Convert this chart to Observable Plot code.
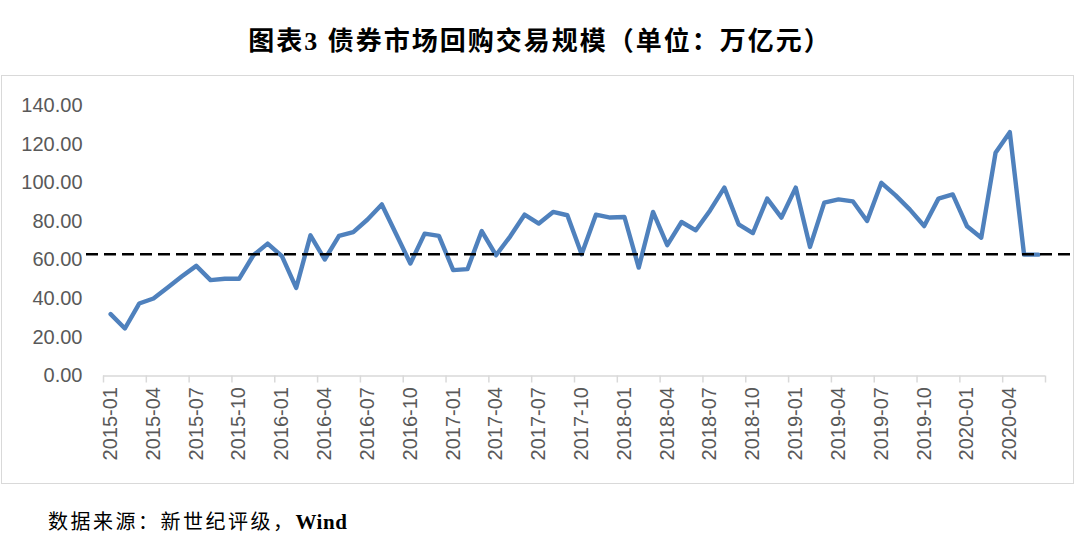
<!DOCTYPE html>
<html>
<head>
<meta charset="utf-8">
<script src="https://cdn.jsdelivr.net/npm/d3@7"></script>
<script src="https://cdn.jsdelivr.net/npm/@observablehq/plot@0.6"></script>
<style>
  body { margin: 0; background: #fff; }
  #wrap { position: relative; width: 1080px; height: 545px; overflow: hidden; background: #fff; }
  #title { position: absolute; top: 24px; left: 0; width: 1080px; text-align: center;
    font-family: "Liberation Serif", "Noto Sans CJK SC", serif; font-weight: bold; font-size: 26px;
    letter-spacing: 2px; color: #000; line-height: 36px; }
  #box { position: absolute; left: 1px; top: 75px; width: 1071px; height: 407px; border: 1.5px solid #d9d9d9; }
  #chart { position: absolute; left: 0; top: 0; }
  #cap { position: absolute; left: 48px; top: 508px; font-family: "Liberation Serif", "Noto Sans CJK SC", serif;
    font-size: 20px; letter-spacing: 2.5px; color: #000; line-height: 28px; }
  #cap b { letter-spacing: 0.5px; font-size: 21px; }
</style>
</head>
<body>
<div id="wrap">
  <div id="title">图表3 债券市场回购交易规模（单位：万亿元）</div>
  <div id="box"></div>
  <div id="chart"></div>
  <div id="cap">数据来源：新世纪评级，<b>Wind</b></div>
</div>
<script>
const months = [
  "2015-01","2015-02","2015-03","2015-04","2015-05","2015-06","2015-07","2015-08","2015-09","2015-10","2015-11","2015-12",
  "2016-01","2016-02","2016-03","2016-04","2016-05","2016-06","2016-07","2016-08","2016-09","2016-10","2016-11","2016-12",
  "2017-01","2017-02","2017-03","2017-04","2017-05","2017-06","2017-07","2017-08","2017-09","2017-10","2017-11","2017-12",
  "2018-01","2018-02","2018-03","2018-04","2018-05","2018-06","2018-07","2018-08","2018-09","2018-10","2018-11","2018-12",
  "2019-01","2019-02","2019-03","2019-04","2019-05","2019-06","2019-07","2019-08","2019-09","2019-10","2019-11","2019-12",
  "2020-01","2020-02","2020-03","2020-04","2020-05","2020-06"
];
const repoVolume = [
  32.0, 24.6, 37.5, 40.1, 45.8, 51.6, 57.0, 49.6, 50.3, 50.3, 62.5, 68.5,
  62.0, 45.6, 72.8, 60.3, 72.5, 74.5, 81.0, 88.8, 73.5, 58.2, 73.7, 72.5,
  54.8, 55.3, 75.0, 62.5, 72.3, 83.5, 78.9, 84.9, 83.2, 63.0, 83.5, 82.0,
  82.3, 56.1, 84.9, 67.7, 79.7, 75.4, 85.7, 97.5, 78.5, 74.0, 91.8, 82.0,
  97.5, 66.8, 89.7, 91.4, 90.4, 80.2, 100.0, 93.5, 86.1, 77.6, 91.8, 94.0,
  77.5, 71.6, 115.5, 126.2, 62.8, 62.8
];
const referenceLevel = 63.0;
const yTicks = [0, 20, 40, 60, 80, 100, 120, 140];
const labelEvery = 3;

const data = months.map((m, i) => ({i, month: m, value: repoVolume[i]}));
const labelIdx = months.map((m, i) => i).filter(i => i % labelEvery === 0);
const boundaries = d3.range(-0.5, months.length, labelEvery);

const chart = Plot.plot({
  width: 1080,
  height: 545,
  marginTop: 105,
  marginBottom: 169.5,
  marginLeft: 103,
  marginRight: 35,
  style: {background: "transparent", fontFamily: "'Liberation Sans', Arial, sans-serif"},
  x: {type: "linear", domain: [-0.5, months.length - 0.5], axis: null},
  y: {domain: [0, 140], axis: null},
  marks: [
    Plot.axisY(yTicks, {tickSize: 0, tickPadding: 21, tickFormat: d3.format(".2f"),
      fontSize: 20, fill: "#595959", label: null}),
    Plot.ruleY([0], {stroke: "#d9d9d9", strokeWidth: 1.5}),
    Plot.axisX(boundaries, {tickSize: 7, tickFormat: () => "", stroke: "#d9d9d9", strokeWidth: 1.5, label: null}),
    Plot.axisX(labelIdx, {tickSize: 0, tickPadding: 11, tickRotate: -90, tickFormat: i => months[i],
      fontSize: 20, fill: "#595959", label: null}),
    Plot.line(data, {x: "i", y: "value", stroke: "#4f81bd", strokeWidth: 4.4,
      strokeLinejoin: "round", strokeLinecap: "round"}),
    Plot.ruleY([referenceLevel], {stroke: "#000", strokeWidth: 2.6, strokeDasharray: "12,6",
      insetLeft: -17, insetRight: -28})
  ]
});
document.getElementById("chart").appendChild(chart);
</script>
</body>
</html>
